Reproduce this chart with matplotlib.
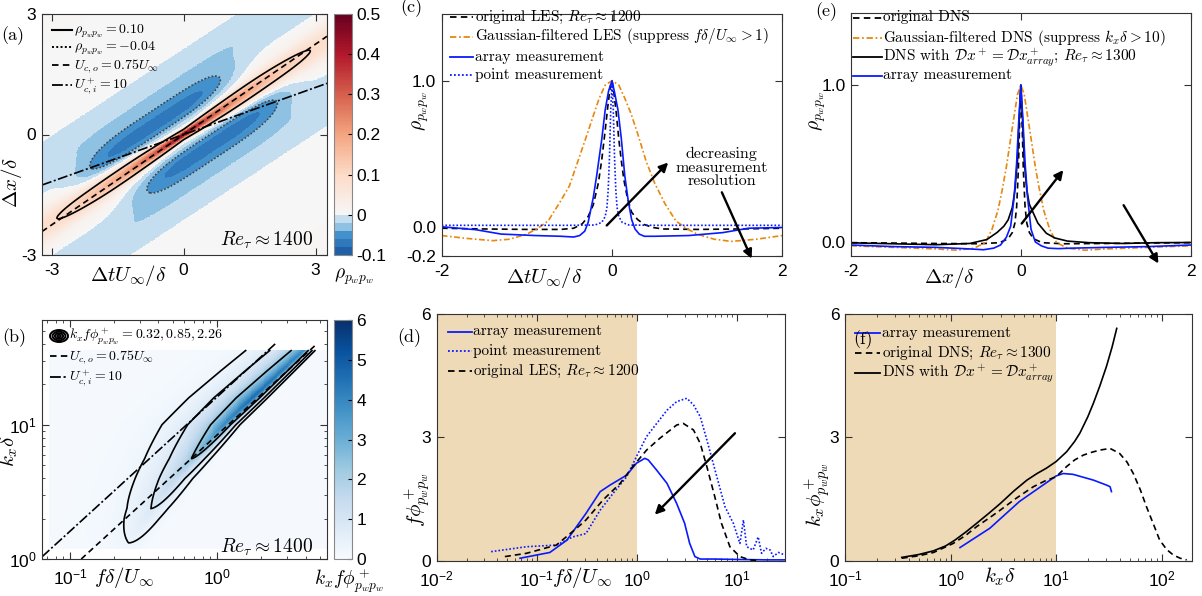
import numpy as np
import matplotlib
matplotlib.use('Agg')
import matplotlib.pyplot as plt
from matplotlib.colors import ListedColormap, Normalize
from matplotlib.lines import Line2D
from matplotlib.patches import Ellipse
from matplotlib.ticker import FuncFormatter, LogLocator, NullFormatter

plt.rcParams['font.family'] = ['Liberation Sans', 'DejaVu Sans']
plt.rcParams['mathtext.fontset'] = 'cm'
plt.rcParams['axes.unicode_minus'] = False
plt.rcParams['axes.linewidth'] = 0.8
plt.rcParams['axes.edgecolor'] = '#333333'
plt.rcParams['xtick.direction'] = 'in'
plt.rcParams['ytick.direction'] = 'in'
plt.rcParams['xtick.top'] = True
plt.rcParams['ytick.right'] = True

# ---------------- data ----------------
# (a) space-time correlation map, built from values
Uinf_plus = 25.6
Uco = 0.75
Uci_plus = 10.0
a_ridge_slope = 0.72
a_ridge_peak = 0.45
a_ridge_decay = 1.45
a_ridge_w0, a_ridge_w1 = 0.10, 0.09
a_tail_amp, a_tail_w = 0.035, 0.50
a_lobe_amp, a_lobe_t, a_lobe_n = 0.077, 0.65, 0.66
a_lobe_len, a_lobe_w = 1.75, 0.46
a_band_amp, a_band_n, a_band_w = 0.022, 1.45, 0.52
a_offset = 0.004

# (b) wavenumber-frequency spectrum: ridge amplitude and shape vs log10(kx delta)
b_v_knots = [0.0, 0.12, 0.38, 0.6, 0.75, 1.0, 1.2, 1.4, 1.56]
b_amp = [0.05, 0.24, 0.78, 1.5, 2.2, 3.8, 4.5, 4.2, 3.8]
b_shape_v = [0.0, 0.3, 0.6, 1.0, 1.56]
b_d0 = [-0.25, -0.12, -0.02, 0.04, 0.05]
b_left_decay = [0.14, 0.14, 0.14, 0.15, 0.14]
b_right_w = [0.11, 0.11, 0.10, 0.07, 0.05]
b_background = 0.08
b_ridge_c = 0.92
b_f_range = (0.073, 5.6)
b_k_range = (1.2, 36.0)
b_levels = [0.32, 0.85, 2.26]

# (c) correlations vs time delay
c_les_x = [-2.0, -1.5, -1.0, -0.6, -0.45, -0.35, -0.28, -0.22, -0.16, -0.12, -0.08, -0.05, -0.02, 0.0,
           0.02, 0.05, 0.08, 0.11, 0.14, 0.18, 0.23, 0.3, 0.38, 0.48, 0.6, 1.0, 1.5, 2.0]
c_les_y = [-0.01, -0.015, -0.018, -0.018, -0.01, 0.02, 0.07, 0.15, 0.3, 0.46, 0.66, 0.82, 0.96, 1.0,
           0.93, 0.78, 0.6, 0.45, 0.32, 0.2, 0.1, 0.05, 0.015, -0.005, -0.015, -0.018, -0.015, -0.01]
c_gauss_x = [-2.0, -1.7, -1.4, -1.2, -1.0, -0.87, -0.75, -0.62, -0.5, -0.4, -0.3, -0.22, -0.15, -0.08, 0.0,
             0.08, 0.15, 0.22, 0.3, 0.4, 0.5, 0.62, 0.75, 0.87, 1.0, 1.2, 1.4, 1.7, 2.0]
c_gauss_y = [-0.06, -0.08, -0.095, -0.085, -0.05, -0.01, 0.04, 0.16, 0.28, 0.45, 0.62, 0.76, 0.88, 0.97, 1.0,
             0.97, 0.88, 0.78, 0.64, 0.45, 0.3, 0.16, 0.04, -0.01, -0.05, -0.085, -0.1, -0.085, -0.06]
c_array_x = [-2.0, -1.6, -1.3, -0.9, -0.6, -0.45, -0.38, -0.32, -0.28, -0.22, -0.18, -0.12, -0.08, -0.04, 0.0,
             0.03, 0.07, 0.11, 0.15, 0.19, 0.23, 0.27, 0.32, 0.38, 0.5, 0.9, 1.3, 1.6, 2.0]
c_array_y = [0.0, -0.02, -0.05, -0.06, -0.065, -0.07, -0.06, -0.03, 0.03, 0.2, 0.35, 0.6, 0.8, 0.93, 1.0,
             0.92, 0.8, 0.6, 0.35, 0.18, 0.05, -0.015, -0.05, -0.065, -0.065, -0.06, -0.04, -0.01, -0.005]
c_point_x = [-2.0, -1.0, -0.5, -0.2, -0.12, -0.08, -0.06, -0.045, -0.03, -0.015, 0.0,
             0.015, 0.03, 0.045, 0.06, 0.08, 0.12, 0.2, 0.5, 1.0, 2.0]
c_point_y = [0.01, 0.01, 0.01, 0.012, 0.03, 0.07, 0.13, 0.25, 0.47, 0.8, 0.97,
             0.8, 0.47, 0.25, 0.13, 0.07, 0.03, 0.012, 0.01, 0.01, 0.01]

# (d) premultiplied frequency spectra
d_array_x = [0.068, 0.135, 0.2, 0.31, 0.43, 0.54, 0.79, 0.99, 1.2, 1.3, 1.58, 2.0, 2.5, 3.0, 3.37, 3.8, 4.3, 6, 10, 20, 30]
d_array_y = [0.06, 0.2, 0.5, 1.15, 1.68, 1.84, 2.08, 2.37, 2.49, 2.45, 2.2, 1.88, 1.39, 0.91, 0.42, 0.1, 0.04, 0.04, 0.03, 0.02, 0.02]
d_point_x = [0.035, 0.079, 0.157, 0.23, 0.31, 0.43, 0.58, 0.79, 0.99, 1.25, 1.58, 2.0, 2.5, 3.16, 3.68, 4.3, 5.0, 6.3,
             7.6, 9.2, 10.7, 11.6, 12.5, 14.5, 16.3, 17.6, 19.5, 21.5, 23, 26, 30]
d_point_y = [0.22, 0.34, 0.38, 0.58, 0.66, 1.23, 1.64, 2.04, 2.53, 3.02, 3.34, 3.66, 3.87, 3.95, 3.79, 3.5, 2.94, 2.04,
             1.31, 0.91, 0.42, 0.99, 0.34, 0.26, 0.58, 0.18, 0.3, 0.26, 0.1, 0.2, 0.14]
d_les_x = [0.048, 0.079, 0.157, 0.25, 0.31, 0.46, 0.68, 0.91, 1.25, 1.7, 2.5, 2.9, 3.68, 4.3, 5.0, 6.0, 7.0, 8.5, 10.7, 13.4, 17]
d_les_y = [0.1, 0.18, 0.38, 0.79, 0.99, 1.48, 1.88, 2.29, 2.69, 2.98, 3.3, 3.34, 3.18, 2.85, 2.29, 1.56, 0.91, 0.34, 0.1, 0.02, 0.0]

# (e) correlations vs streamwise separation
e_dns_x = [-2, -1, -0.5, -0.25, -0.15, -0.1, -0.07, -0.05, -0.03, -0.015, 0, 0.015, 0.03, 0.05, 0.07, 0.1, 0.15, 0.25, 0.5, 1, 2]
e_dns_y = [-0.005, -0.01, -0.012, -0.005, 0.02, 0.06, 0.12, 0.22, 0.45, 0.75, 1.0, 0.75, 0.45, 0.22, 0.12, 0.06, 0.02,
           -0.005, -0.012, -0.01, -0.005]
e_gauss_x = [-2, -1.5, -1.0, -0.75, -0.55, -0.42, -0.34, -0.27, -0.22, -0.17, -0.12, -0.08, -0.04, 0,
             0.04, 0.08, 0.12, 0.17, 0.22, 0.27, 0.34, 0.42, 0.55, 0.75, 1.0, 1.5, 2]
e_gauss_y = [-0.025, -0.035, -0.045, -0.053, -0.04, -0.005, 0.08, 0.2, 0.33, 0.48, 0.66, 0.8, 0.94, 1.0,
             0.94, 0.8, 0.66, 0.48, 0.33, 0.2, 0.08, -0.005, -0.04, -0.053, -0.045, -0.035, -0.025]
e_dx_x = [-2, -1.5, -1.0, -0.6, -0.4, -0.28, -0.2, -0.15, -0.1, -0.07, -0.04, -0.02, 0,
          0.02, 0.04, 0.07, 0.1, 0.15, 0.2, 0.3, 0.4, 0.55, 0.8, 1.2, 1.6, 2]
e_dx_y = [-0.006, -0.012, -0.018, -0.01, 0.015, 0.06, 0.1, 0.14, 0.22, 0.33, 0.52, 0.78, 1.0,
          0.78, 0.52, 0.33, 0.24, 0.18, 0.12, 0.055, 0.025, 0.005, -0.005, -0.01, -0.005, -0.004]
e_array_x = [-2, -1.5, -1, -0.6, -0.44, -0.32, -0.24, -0.17, -0.12, -0.08, -0.05, -0.025, 0,
             0.025, 0.05, 0.08, 0.12, 0.17, 0.24, 0.32, 0.44, 0.6, 1, 1.5, 2]
e_array_y = [-0.02, -0.03, -0.035, -0.045, -0.05, -0.04, -0.02, 0.03, 0.1, 0.28, 0.5, 0.77, 1.0,
             0.77, 0.5, 0.28, 0.08, 0.0, -0.025, -0.04, -0.043, -0.04, -0.035, -0.03, -0.02]

# (f) premultiplied wavenumber spectra
f_array_x = [1.23, 2.36, 4.5, 10, 11.7, 14.5, 22.6, 30, 32.5, 33.5]
f_array_y = [0.32, 0.79, 1.44, 2.06, 2.12, 2.1, 1.96, 1.84, 1.8, 1.68]
f_dns_x = [0.345, 0.5, 0.69, 1.06, 1.4, 1.77, 2.3, 2.96, 4.2, 6.1, 8, 10, 12.6, 15, 18.2, 22, 26, 32.5, 40, 47, 54,
           63, 72, 84, 96, 112, 129, 150, 173]
f_dns_y = [0.06, 0.12, 0.2, 0.42, 0.62, 0.83, 1.03, 1.23, 1.52, 1.8, 1.95, 2.04, 2.29, 2.45, 2.57, 2.64, 2.69, 2.73,
           2.61, 2.4, 2.12, 1.72, 1.31, 0.88, 0.5, 0.27, 0.14, 0.06, 0.02]
f_dx_x = [0.345, 0.5, 0.69, 0.9, 1.1, 1.4, 1.77, 2.3, 2.96, 4.0, 5.3, 6.6, 8.1, 10, 12.6, 15, 16.8, 20, 22.6, 26, 30, 34, 37.6]
f_dx_y = [0.08, 0.15, 0.24, 0.36, 0.5, 0.7, 0.91, 1.15, 1.39, 1.7, 1.96, 2.12, 2.25, 2.41, 2.65, 2.9, 3.1, 3.5, 3.83,
          4.25, 4.72, 5.2, 5.65]

# ---------------- styles ----------------
W, H = 1202, 596
BLUE = '#0a1aff'
ORANGE = '#e8870e'
TAN = '#efdab7'
DASH = (0, (3.6, 2.4))
DASHDOT = (0, (3.5, 1.5, 1.0, 1.5))
DOT = (0, (1.0, 1.2))
DASHDOT_K = (0, (6, 1.5, 1.2, 1.5))
LW = 1.2


def rect(l, t, r, b):
    return [l / W, 1 - b / H, (r - l) / W, (b - t) / H]


def ftext(x, y, s, **kw):
    fig.text(x / W, 1 - y / H, s, ha='center', va='center', **kw)


def logfmt(v, pos):
    return r'$\mathregular{10^{%d}}$' % int(round(np.log10(v)))


def style(ax):
    ax.tick_params(which='major', length=5, width=0.8, labelsize=12.5, pad=6, color='#333333')
    ax.tick_params(axis='y', which='major', pad=4)
    ax.tick_params(which='minor', length=2.5, width=0.6, color='#333333')


def logaxis(ax, axis='x'):
    a = ax.xaxis if axis == 'x' else ax.yaxis
    a.set_major_locator(LogLocator(base=10, numticks=20))
    a.set_minor_locator(LogLocator(base=10, subs=np.arange(2, 10), numticks=20))
    a.set_major_formatter(FuncFormatter(logfmt))
    a.set_minor_formatter(NullFormatter())


def arrow(ax, start, end):
    ax.annotate('', xy=end, xytext=start, annotation_clip=False,
                arrowprops=dict(arrowstyle='-|>', color='k', lw=1.7, mutation_scale=13,
                                shrinkA=0, shrinkB=0))


def legend_rows(entries, x1, x2, xt, rows, size=11):
    # entries: (line kwargs or 'rings', label); positions in figure pixels
    for (kw, label), y in zip(entries, rows):
        if kw == 'rings':
            cx, cy = (x1 + x2) / 2, y
            for s in [1.0, 0.72, 0.46, 0.2]:
                fig.add_artist(Ellipse((cx / W, 1 - cy / H), (x2 - x1) * s / W, 12 * s / H,
                                       fill=False, ec='k', lw=1.4, transform=fig.transFigure))
        else:
            fig.add_artist(Line2D([x1 / W, x2 / W], [1 - y / H, 1 - y / H],
                                  transform=fig.transFigure, **kw))
        fig.text(xt / W, 1 - (y + 3.5) / H, label, ha='left', va='baseline',
                 family='cmr10', size=size)


fig = plt.figure(figsize=(W / 100, H / 100), dpi=100)

# ================= (a) =================
ax = fig.add_axes(rect(42, 14, 327, 255))
t = np.linspace(-3.22, 3.26, 420)
xx = np.linspace(-3, 3, 400)
T, X = np.meshgrid(t, xx)
N = X - a_ridge_slope * T
ridge = a_ridge_peak * np.exp(-np.abs(T) / a_ridge_decay) * \
    np.exp(-(N / (a_ridge_w0 + a_ridge_w1 * np.abs(T))) ** 2)
tail = a_tail_amp * np.exp(-(N / a_tail_w) ** 2)
lobes = a_lobe_amp * (np.exp(-((T + a_lobe_t) / a_lobe_len) ** 4 - ((N - a_lobe_n) / a_lobe_w) ** 2) +
                      np.exp(-((T - a_lobe_t) / a_lobe_len) ** 4 - ((N + a_lobe_n) / a_lobe_w) ** 2))
band = a_band_amp * np.exp(-((np.abs(N) - a_band_n) / a_band_w) ** 2)
rho = a_offset + ridge + tail - lobes - band

neg_cols = ['#1f5fa8', '#2f78bb', '#4391cc', '#8fc2e2', '#c4def0']
rdbu = plt.get_cmap('RdBu_r')
cols = []
for i in range(600):
    v = -0.1 + (i + 0.5) / 600 * 0.6
    if v < 0:
        cols.append(neg_cols[min(int((v + 0.1) / 0.02), 4)])
    else:
        cols.append(rdbu(0.5 + 0.5 * v / 0.5))
cmap_a = ListedColormap(cols)
mesh = ax.pcolormesh(T, X, rho, cmap=cmap_a, norm=Normalize(-0.1, 0.5), shading='auto', rasterized=True)
ax.contour(T, X, rho, levels=[0.10], colors='k', linewidths=1.2)
ax.contour(T, X, rho, levels=[-0.04], colors='#444444', linewidths=1.2, linestyles=[DOT])
tl = np.array([-3.22, 3.26])
ax.plot(tl, Uco * tl, color='k', lw=LW, ls=DASH)
ax.plot(tl, Uci_plus / Uinf_plus * tl, color='k', lw=LW, ls=DASHDOT_K)
ax.set_xlim(-3.22, 3.26)
ax.set_ylim(-3, 3)
ax.set_xticks([-3, 0, 3])
ax.set_yticks([-3, 0, 3])
style(ax)
legend_rows([(dict(color='k', lw=1.5), r'$\rho_{p_wp_w}=0.10$'),
             (dict(color='k', lw=1.4, ls=DOT), r'$\rho_{p_wp_w}=-0.04$'),
             (dict(color='k', lw=1.3, ls=DASH), r'$U_{c,o}=0.75U_\infty$'),
             (dict(color='k', lw=1.3, ls=DASHDOT_K), r'$U_{c,i}^+=10$')],
            52, 72, 74, [30, 47, 65, 85], size=10)
ax.text(0.951, 0.062, r'$Re_\tau\approx1400$', transform=ax.transAxes, ha='right', va='center', fontsize=14)
cax = fig.add_axes(rect(334, 14, 352, 255))
cb = fig.colorbar(mesh, cax=cax, ticks=[-0.1, 0, 0.1, 0.2, 0.3, 0.4, 0.5])
cb.ax.set_yticklabels(['-0.1', '0', '0.1', '0.2', '0.3', '0.4', '0.5'])
cb.ax.tick_params(labelsize=12.5, length=3, direction='in', pad=3)
cb.outline.set_edgecolor('#888888')
ftext(128, 275, r'$\Delta tU_\infty/\delta$', fontsize=15)
ftext(12, 182, r'$\Delta x/\delta$', fontsize=15, rotation=90)
ftext(354, 277, r'$\rho_{p_wp_w}$', fontsize=14)
ftext(13, 36, '(a)', family='cmr10', fontsize=13)

# ================= (b) =================
ax = fig.add_axes(rect(42, 320, 327, 559))
u = np.linspace(np.log10(b_f_range[0]), np.log10(b_f_range[1]), 300)
vv = np.linspace(np.log10(b_k_range[0]), np.log10(b_k_range[1]), 300)
U, V = np.meshgrid(u, vv)
D = V - U - b_ridge_c
A = np.interp(V, b_v_knots, b_amp)
D0 = np.interp(V, b_shape_v, b_d0)
LD = np.interp(V, b_shape_v, b_left_decay)
WR = np.interp(V, b_shape_v, b_right_w)
spec = b_background + A * np.where(D > D0, np.exp(-(D - D0) / LD), np.exp(-((D0 - D) / WR) ** 2))
mesh_b = ax.pcolormesh(10 ** U, 10 ** V, spec, cmap='Blues', norm=Normalize(0, 6), shading='auto', rasterized=True)
ax.contour(10 ** U, 10 ** V, spec, levels=b_levels, colors='k', linewidths=1.2)
ax.set_xscale('log')
ax.set_yscale('log')
fl = np.array([1 / (2 * np.pi / Uco), 40 / (2 * np.pi / Uco)])
ax.plot(fl, 2 * np.pi / Uco * fl, color='k', lw=LW, ls=DASH)
uci = Uci_plus / Uinf_plus
fl2 = np.array([10 ** -1.19, 40 / (2 * np.pi / uci)])
ax.plot(fl2, 2 * np.pi / uci * fl2, color='k', lw=LW, ls=DASHDOT_K)
ax.set_xlim(10 ** -1.19, 10 ** 0.748)
ax.set_ylim(1, 10 ** 1.78)
logaxis(ax, 'x')
logaxis(ax, 'y')
style(ax)
legend_rows([('rings', r'$k_xf\phi^+_{p_wp_w}=0.32, 0.85, 2.26$'),
             (dict(color='k', lw=1.3, ls=DASH), r'$U_{c,o}=0.75U_\infty$'),
             (dict(color='k', lw=1.3, ls=DASHDOT_K), r'$U_{c,i}^+=10$')],
            50, 68, 69, [336, 356, 377], size=10)
ax.text(0.951, 0.05, r'$Re_\tau\approx1400$', transform=ax.transAxes, ha='right', va='center', fontsize=14)
cax = fig.add_axes(rect(334, 320, 352, 559))
cb = fig.colorbar(mesh_b, cax=cax, ticks=range(7))
cb.ax.tick_params(labelsize=12.5, length=3, direction='in', pad=3)
cb.outline.set_edgecolor('#888888')
ftext(124, 578, r'$f\delta/U_\infty$', fontsize=15)
ftext(9, 451, r'$k_x\delta$', fontsize=15, rotation=90)
ftext(349, 581, r'$k_xf\phi^+_{p_wp_w}$', fontsize=14)
ftext(14, 338, '(b)', family='cmr10', fontsize=13)

# ================= (c) =================
ax = fig.add_axes(rect(441.7, 13.5, 782.3, 256))
ax.plot(c_les_x, c_les_y, color='k', lw=LW, ls=DASH)
ax.plot(c_gauss_x, c_gauss_y, color=ORANGE, lw=LW, ls=DASHDOT)
ax.plot(c_array_x, c_array_y, color=BLUE, lw=LW)
ax.plot(c_point_x, c_point_y, color=BLUE, lw=LW, ls=DOT)
ax.set_xlim(-2, 2)
ax.set_ylim(-0.2, 1.46)
ax.set_xticks([-2, 0, 2])
ax.set_yticks([-0.2, 0, 1])
ax.set_yticklabels(['-0.2', '0.0', '1.0'])
style(ax)
legend_rows([(dict(color='k', lw=1.3, ls=DASH), r'original LES; $Re_\tau\approx1200$'),
             (dict(color=ORANGE, lw=1.3, ls=DASHDOT), r'Gaussian-filtered LES (suppress $f\delta/U_\infty>1$)'),
             (dict(color=BLUE, lw=1.3), 'array measurement'),
             (dict(color=BLUE, lw=1.3, ls=DOT), 'point measurement')],
            450, 473, 475, [17, 37, 57, 75])
arrow(ax, (-0.062, 0.009), (0.66, 0.44))
arrow(ax, (1.29, 0.236), (1.64, -0.218))
ax.text(1.29, 0.406, 'decreasing\nmeasurement\nresolution', ha='center', va='center',
        family='cmr10', fontsize=11.5, linespacing=1.0)
ftext(544, 278, r'$\Delta tU_\infty/\delta$', fontsize=15)
ftext(421, 111, r'$\rho_{p_wp_w}$', fontsize=14, rotation=90)
ftext(411, 8, '(c)', family='cmr10', fontsize=13)

# ================= (d) =================
ax = fig.add_axes(rect(436.7, 314, 785, 560.7))
ax.axvspan(0.01, 1.0, color=TAN, lw=0, zorder=0)
ax.plot(d_array_x, d_array_y, color=BLUE, lw=LW)
ax.plot(d_point_x, d_point_y, color=BLUE, lw=LW, ls=DOT)
ax.plot(d_les_x, d_les_y, color='k', lw=LW, ls=DASH)
ax.set_xscale('log')
ax.set_xlim(0.01, 30.2)
ax.set_ylim(0, 6)
ax.set_yticks([0, 3, 6])
logaxis(ax, 'x')
style(ax)
legend_rows([(dict(color=BLUE, lw=1.3), 'array measurement'),
             (dict(color=BLUE, lw=1.3, ls=DOT), 'point measurement'),
             (dict(color='k', lw=1.3, ls=DASH), r'original LES; $Re_\tau\approx1200$')],
            448, 472, 473, [332, 351, 371])
arrow(ax, (9.55, 3.1), (1.51, 1.12))
ftext(582, 578, r'$f\delta/U_\infty$', fontsize=15)
ftext(417, 500, r'$f\phi^+_{p_wp_w}$', fontsize=15, rotation=90)
ftext(409, 338, '(d)', family='cmr10', fontsize=13)

# ================= (e) =================
ax = fig.add_axes(rect(851, 13, 1190.7, 256))
ax.plot(e_dns_x, e_dns_y, color='k', lw=LW, ls=DASH)
ax.plot(e_gauss_x, e_gauss_y, color=ORANGE, lw=LW, ls=DASHDOT)
ax.plot(e_dx_x, e_dx_y, color='k', lw=LW)
ax.plot(e_array_x, e_array_y, color=BLUE, lw=LW)
ax.set_xlim(-2, 2)
ax.set_ylim(-0.09, 1.46)
ax.set_xticks([-2, 0, 2])
ax.set_yticks([0, 1])
ax.set_yticklabels(['0.0', '1.0'])
style(ax)
legend_rows([(dict(color='k', lw=1.3, ls=DASH), 'original DNS'),
             (dict(color=ORANGE, lw=1.3, ls=DASHDOT), r'Gaussian-filtered DNS (suppress $k_x\delta>10$)'),
             (dict(color='k', lw=1.3),
              r'DNS with $\mathcal{D}x^+=\mathcal{D}x^+_{array}$; $Re_\tau\approx1300$'),
             (dict(color=BLUE, lw=1.3), 'array measurement')],
            853, 882, 883, [18, 38, 57, 76])
arrow(ax, (0.01, 0.117), (0.5, 0.458))
arrow(ax, (1.21, 0.234), (1.62, -0.138))
ftext(950, 277, r'$\Delta x/\delta$', fontsize=15)
ftext(818, 111, r'$\rho_{p_wp_w}$', fontsize=14, rotation=90)
ftext(826, 12, '(e)', family='cmr10', fontsize=13)

# ================= (f) =================
ax = fig.add_axes(rect(845, 314, 1191.7, 560.7))
ax.axvspan(0.1, 10.0, color=TAN, lw=0, zorder=0)
ax.plot(f_array_x, f_array_y, color=BLUE, lw=LW)
ax.plot(f_dns_x, f_dns_y, color='k', lw=LW, ls=DASH)
ax.plot(f_dx_x, f_dx_y, color='k', lw=LW)
ax.set_xscale('log')
ax.set_xlim(0.1, 193)
ax.set_ylim(0, 6)
ax.set_yticks([0, 3, 6])
logaxis(ax, 'x')
style(ax)
legend_rows([(dict(color=BLUE, lw=1.3), 'array measurement'),
             (dict(color='k', lw=1.3, ls=DASH), r'original DNS; $Re_\tau\approx1300$'),
             (dict(color='k', lw=1.3), r'DNS with $\mathcal{D}x^+=\mathcal{D}x^+_{array}$')],
            855, 880, 882, [333, 353, 373])
ftext(1000, 577, r'$k_x\delta$', fontsize=15)
ftext(817, 495, r'$k_x\phi^+_{p_wp_w}$', fontsize=15, rotation=90)
ftext(863, 340, '(f)', family='cmr10', fontsize=13)

fig.savefig('out.png', dpi=100)
